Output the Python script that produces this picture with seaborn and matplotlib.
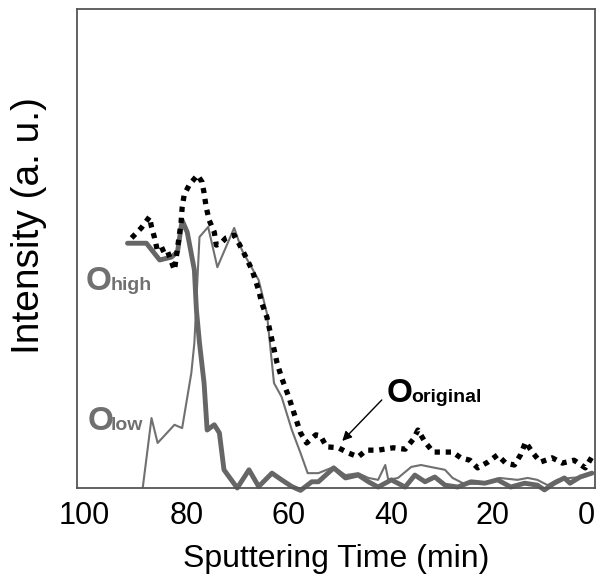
import numpy as np
import pandas as pd
import matplotlib
matplotlib.use("Agg")
import matplotlib.pyplot as plt
import matplotlib.transforms as mtrans
import seaborn as sns

# ---- data ----
t_original = [90.8, 88.9, 87.3, 86.9, 86.3, 85.7, 84.0, 82.4, 81.1, 80.9, 80.5, 79.5, 77.9,
              77.0, 76.6, 76.2, 75.6, 74.6, 74.2, 73.3, 72.3, 70.7, 69.8, 68.4, 67.2, 65.9,
              65.3, 64.3, 63.3, 62.3, 61.4, 60.0, 59.0, 57.7, 56.5, 54.7, 53.8, 52.6, 50.3,
              48.3, 46.4, 44.8, 42.5, 39.5, 37.2, 35.6, 34.7, 33.3, 31.7, 29.4, 27.9, 26.3,
              24.5, 23.0, 21.0, 19.1, 17.5, 15.8, 14.6, 13.6, 12.3, 10.7, 8.4, 6.4, 4.1, 1.9, 0.6]
v_original = [52.2, 54.3, 56.6, 54.5, 52.2, 49.3, 50.1, 45.5, 55.5, 58.5, 61.2, 63.3, 65.3,
              63.9, 61.6, 58.7, 55.9, 53.4, 50.7, 51.1, 52.2, 52.8, 51.1, 48.2, 45.5, 41.3,
              38.6, 35.7, 30.9, 26.1, 23.0, 19.0, 15.7, 11.5, 9.4, 11.1, 10.9, 8.6, 8.4,
              7.3, 6.5, 7.9, 7.9, 8.4, 8.1, 10.2, 12.1, 9.6, 7.5, 7.5, 7.5, 6.3,
              5.8, 4.2, 5.4, 6.9, 5.2, 4.8, 6.9, 9.6, 7.5, 5.4, 6.3, 5.2, 5.8, 4.2, 6.5]

t_high = [91.6, 87.9, 85.3, 83.0, 81.8, 80.9, 79.9, 78.5, 78.1, 77.5, 76.6, 76.0, 74.6, 73.6,
          72.7, 70.1, 67.8, 65.9, 63.3, 61.4, 59.4, 57.7, 55.5, 54.2, 51.2, 48.9, 46.4, 44.4,
          42.5, 39.9, 37.2, 35.3, 33.3, 31.4, 29.4, 26.9, 24.3, 21.6, 19.1, 16.5, 13.8, 11.3,
          9.9, 8.0, 6.0, 4.9, 2.9, 0.6]
v_high = [51.1, 51.1, 47.6, 48.2, 49.3, 55.9, 53.4, 45.5, 37.2, 30.3, 21.9, 12.1, 13.2, 11.5,
          3.8, 0.0, 3.8, 0.3, 3.1, 1.7, 0.3, -0.5, 1.3, 1.3, 4.2, 2.1, 2.7, 1.3,
          0.2, 1.7, 0.2, 2.7, 1.3, 2.3, 0.6, 0.2, 1.3, 1.0, 1.7, 0.2, 1.0, 0.6,
          -0.4, 1.0, 2.1, 1.0, 2.3, 3.1]

t_low = [88.6, 86.9, 85.7, 82.4, 80.9, 79.1, 78.5, 77.5, 75.8, 74.0, 70.7, 69.2, 67.8, 65.9,
         64.3, 62.9, 61.4, 59.4, 57.7, 56.3, 54.2, 51.2, 48.9, 46.4, 44.4, 42.5, 41.1, 40.5,
         38.6, 36.0, 34.1, 31.3, 29.4, 27.9, 25.5, 21.6, 18.7, 15.2, 13.2, 11.3, 9.3, 7.4,
         4.9, 2.1, 0.6]
v_low = [0.2, 14.6, 9.4, 13.2, 12.5, 24.0, 30.3, 52.4, 54.5, 46.1, 54.3, 49.7, 47.0, 43.4,
         36.5, 21.9, 19.0, 12.1, 7.3, 3.1, 3.1, 4.4, 2.7, 3.1, 2.1, 1.7, 4.8, 1.7,
         2.1, 4.4, 4.8, 4.2, 3.8, 2.1, 0.8, 1.0, 2.1, 1.7, 2.1, 1.7, 0.6, 1.7,
         2.1, 2.3, 3.1]

x_ticks = [100, 80, 60, 40, 20, 0]

df_orig = pd.DataFrame({"t": t_original, "v": v_original})
df_high = pd.DataFrame({"t": t_high, "v": v_high})
df_low = pd.DataFrame({"t": t_low, "v": v_low})

sns.set_theme(style="white")
plt.rcParams["font.family"] = ["Liberation Sans", "DejaVu Sans"]

fig = plt.figure(figsize=(5.98, 5.83), dpi=100)
ax = fig.add_axes([77/598, 95/583, 518/598, 479/583])

sns.lineplot(data=df_low, x="t", y="v", sort=False, estimator=None, ax=ax,
             color="#707070", linewidth=1.5, clip_on=False)
sns.lineplot(data=df_high, x="t", y="v", sort=False, estimator=None, ax=ax,
             color="#666666", linewidth=3.5, clip_on=False, solid_joinstyle="round")
sns.lineplot(data=df_orig, x="t", y="v", sort=False, estimator=None, ax=ax,
             color="black", linewidth=3.8, linestyle=(0, (1, 1.1)),
             dash_capstyle="butt", clip_on=False)

ax.set_xlim(101.5, 0.56)
ax.set_ylim(0, 100)
ax.set_xticks(x_ticks)
ax.set_xticklabels([str(x) for x in x_ticks])
ax.set_yticks([])
ax.tick_params(axis="x", length=0, labelsize=22, pad=9, colors="black")
ax.set_xlabel("Sputtering Time (min)", fontsize=23, labelpad=10, color="black")
ax.set_ylabel("Intensity (a. u.)", fontsize=28, color="black")
ax.yaxis.set_label_coords(-0.058, 0.547)
for s in ax.spines.values():
    s.set_color("#555555")
    s.set_linewidth(1.3)

fig.canvas.draw()
last = ax.get_xticklabels()[-1]
last.set_transform(last.get_transform() + mtrans.ScaledTranslation(-9/100, 0, fig.dpi_scale_trans))

gray = "#707070"
ax.text(99.8, 41.3, "O", fontsize=24, fontweight="bold", color=gray, va="baseline", ha="left")
ax.text(95.0, 41.3, "high", fontsize=14, fontweight="bold", color=gray, va="baseline", ha="left")
ax.text(99.5, 12.1, "O", fontsize=24, fontweight="bold", color=gray, va="baseline", ha="left")
ax.text(95.0, 12.1, "low", fontsize=14, fontweight="bold", color=gray, va="baseline", ha="left")
ax.text(40.8, 18.0, "O", fontsize=24, fontweight="bold", color="black", va="baseline", ha="left")
ax.text(36.0, 18.0, "original", fontsize=14, fontweight="bold", color="black", va="baseline", ha="left")
ax.annotate("", xy=(49.9, 9.4), xytext=(41.4, 18.8),
            arrowprops=dict(arrowstyle="-|>", color="black", lw=1.0, mutation_scale=14))

fig.savefig("out.png", dpi=100)
